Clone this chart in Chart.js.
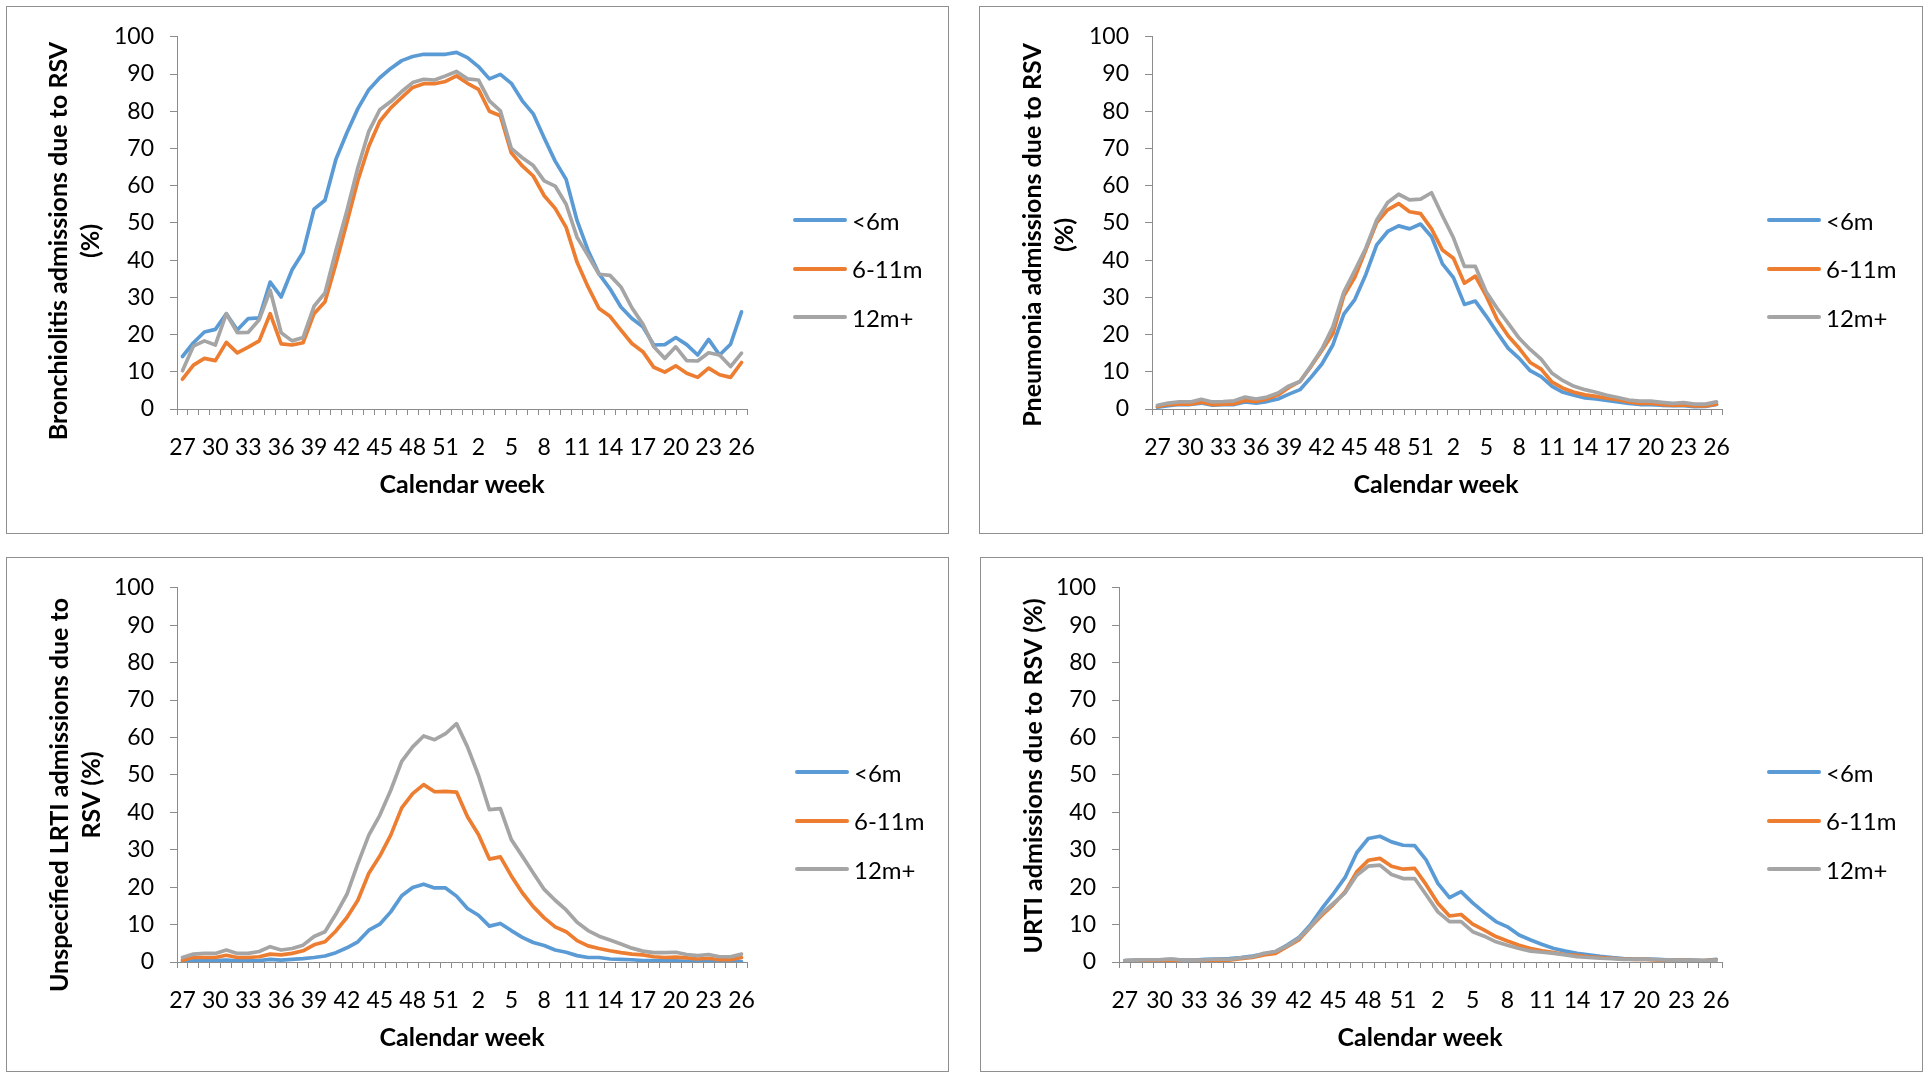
<!DOCTYPE html>
<html>
<head>
<meta charset="utf-8">
<script src="https://cdn.jsdelivr.net/npm/chart.js@4.4.1/dist/chart.umd.min.js"></script>
<style>
  body { margin: 0; background: #fff; width: 1923px; height: 1083px; position: relative; overflow: hidden; font-family: Lato, sans-serif; }
  .panel { position: absolute; box-sizing: border-box; border: 1px solid #8f8f8f; }
  .panel canvas { position: absolute; left: 0; top: 0; }
  .legend-item { position: absolute; display: flex; align-items: center; white-space: nowrap; font-size: 24px; color: #000; }
</style>
</head>
<body>
<div id="p1" class="panel"><canvas></canvas></div>
<div id="p2" class="panel"><canvas></canvas></div>
<div id="p3" class="panel"><canvas></canvas></div>
<div id="p4" class="panel"><canvas></canvas></div>
<script>
const weeks = ['27', '28', '29', '30', '31', '32', '33', '34', '35', '36', '37', '38', '39',
  '40', '41', '42', '43', '44', '45', '46', '47', '48', '49', '50', '51', '52',
  '1', '2', '3', '4', '5', '6', '7', '8', '9', '10', '11', '12', '13',
  '14', '15', '16', '17', '18', '19', '20', '21', '22', '23', '24', '25', '26'];
const yTicks = [0, 10, 20, 30, 40, 50, 60, 70, 80, 90, 100];
const ageGroups = ['<6m', '6-11m', '12m+'];
const COLOURS = ['#5B9BD5', '#ED7D31', '#A5A5A5'];
const AXIS_GREY = '#8c8c8c';

// Bronchiolitis
const bronchUnder6m = [14.1, 17.8, 20.7, 21.4, 25.6, 21.2, 24.3, 24.5, 34.1, 30.1, 37.4, 42.1, 53.7, 56.1, 67.1, 74.2, 80.7, 85.8, 89.0, 91.5, 93.6, 94.7, 95.3, 95.3, 95.3, 95.8, 94.4, 92.0, 88.7, 89.9, 87.5, 82.8, 79.3, 72.8, 66.6, 61.7, 50.6, 42.6, 36.3, 32.3, 27.4, 24.3, 22.1, 17.2, 17.3, 19.2, 17.3, 14.5, 18.7, 14.5, 17.4, 26.1];
const bronch6to11m = [8.0, 11.8, 13.6, 13.0, 17.9, 15.1, 16.6, 18.3, 25.6, 17.5, 17.2, 17.8, 25.6, 28.8, 39.0, 50.1, 61.4, 70.6, 77.3, 80.9, 83.7, 86.4, 87.4, 87.4, 88.0, 89.5, 87.5, 85.9, 80.0, 78.8, 68.8, 65.3, 62.6, 57.3, 53.9, 48.8, 39.4, 32.8, 27.0, 24.9, 21.2, 17.6, 15.4, 11.2, 9.9, 11.6, 9.6, 8.5, 11.0, 9.2, 8.5, 12.5];
const bronch12mPlus = [10.3, 16.9, 18.3, 17.2, 25.6, 20.5, 20.6, 24.0, 31.9, 20.5, 18.3, 19.2, 27.6, 31.2, 42.6, 53.3, 64.8, 74.6, 80.4, 82.6, 85.3, 87.7, 88.6, 88.4, 89.5, 90.7, 88.7, 88.4, 82.8, 80.1, 70.0, 67.5, 65.4, 61.3, 59.9, 55.0, 46.1, 41.2, 36.2, 35.9, 32.8, 27.2, 22.8, 16.7, 13.6, 16.7, 13.0, 12.9, 15.1, 14.5, 11.4, 15.0];

// Pneumonia
const pneumUnder6m = [0.5, 0.9, 1.2, 1.2, 1.6, 1.0, 1.2, 1.2, 1.9, 1.6, 2.0, 2.7, 4.0, 5.2, 8.5, 12.1, 17.2, 25.5, 29.4, 36.1, 44.1, 47.7, 49.2, 48.4, 49.7, 46.3, 39.0, 35.3, 28.1, 29.0, 24.9, 20.5, 16.3, 13.6, 10.3, 8.7, 6.1, 4.5, 3.7, 3.0, 2.7, 2.3, 1.9, 1.5, 1.2, 1.2, 1.0, 0.9, 0.9, 0.6, 0.7, 1.2];
const pneum6to11m = [0.7, 1.2, 1.3, 1.3, 1.8, 1.2, 1.3, 1.4, 2.3, 2.0, 2.7, 3.8, 5.8, 7.4, 11.4, 15.7, 20.3, 30.4, 35.4, 42.7, 50.1, 53.5, 55.2, 53.0, 52.5, 48.4, 42.7, 40.5, 33.8, 35.7, 30.3, 24.0, 19.6, 16.3, 12.5, 10.7, 7.2, 5.6, 4.5, 3.8, 3.4, 2.9, 2.5, 1.9, 1.5, 1.5, 1.2, 1.0, 1.1, 0.8, 0.8, 1.3];
const pneum12mPlus = [1.0, 1.6, 1.9, 1.9, 2.6, 1.9, 2.0, 2.2, 3.2, 2.7, 3.2, 4.3, 6.2, 7.4, 11.6, 16.1, 22.1, 31.4, 37.2, 43.2, 50.8, 55.5, 57.7, 56.2, 56.4, 58.1, 51.9, 46.0, 38.3, 38.3, 31.4, 27.0, 23.0, 19.0, 16.0, 13.4, 9.6, 7.6, 6.1, 5.2, 4.5, 3.7, 3.1, 2.4, 2.1, 2.1, 1.8, 1.5, 1.7, 1.3, 1.3, 1.9];

// Unspecified LRTI
const lrtiUnder6m = [0.1, 0.3, 0.4, 0.4, 0.5, 0.3, 0.3, 0.4, 0.7, 0.5, 0.7, 0.9, 1.2, 1.6, 2.5, 3.8, 5.4, 8.5, 10.1, 13.4, 17.7, 19.9, 20.8, 19.8, 19.8, 17.6, 14.3, 12.5, 9.6, 10.3, 8.4, 6.6, 5.2, 4.4, 3.2, 2.6, 1.7, 1.2, 1.2, 0.8, 0.7, 0.6, 0.4, 0.4, 0.3, 0.3, 0.2, 0.1, 0.2, 0.1, 0.1, 0.1];
const lrti6to11m = [0.5, 1.2, 1.2, 1.2, 1.8, 1.2, 1.2, 1.4, 2.1, 1.9, 2.3, 3.0, 4.6, 5.4, 8.3, 11.9, 16.5, 23.7, 28.3, 33.9, 41.2, 45.0, 47.4, 45.5, 45.6, 45.4, 38.8, 34.1, 27.5, 28.1, 23.0, 18.5, 14.8, 11.8, 9.4, 8.1, 5.7, 4.3, 3.6, 3.0, 2.5, 2.1, 1.9, 1.4, 1.2, 1.3, 1.1, 0.8, 1.0, 0.6, 0.6, 1.2];
const lrti12mPlus = [1.2, 2.1, 2.3, 2.3, 3.2, 2.3, 2.3, 2.8, 4.1, 3.2, 3.6, 4.5, 6.8, 8.1, 12.8, 18.1, 26.3, 33.9, 39.2, 45.9, 53.6, 57.5, 60.4, 59.4, 61.0, 63.7, 57.5, 49.9, 40.7, 41.0, 32.7, 28.3, 23.8, 19.4, 16.5, 13.9, 10.6, 8.4, 6.9, 5.9, 4.8, 3.7, 2.9, 2.5, 2.5, 2.6, 2.0, 1.7, 2.0, 1.4, 1.4, 2.1];

// URTI
const urtiUnder6m = [0.4, 0.5, 0.6, 0.6, 0.7, 0.5, 0.5, 0.7, 0.8, 0.9, 1.2, 1.6, 2.1, 2.8, 4.5, 6.5, 9.9, 14.3, 18.3, 22.6, 29.2, 33.0, 33.6, 32.1, 31.2, 31.1, 27.2, 21.0, 17.2, 18.8, 15.8, 13.2, 10.8, 9.4, 7.2, 5.9, 4.7, 3.6, 2.9, 2.3, 1.9, 1.5, 1.2, 0.9, 0.8, 0.8, 0.7, 0.5, 0.6, 0.5, 0.4, 0.7];
const urti6to11m = [0.3, 0.4, 0.4, 0.4, 0.5, 0.4, 0.4, 0.4, 0.5, 0.5, 0.9, 1.2, 1.9, 2.3, 4.1, 5.9, 9.3, 12.5, 15.4, 18.8, 24.1, 27.2, 27.7, 25.6, 24.8, 25.0, 20.6, 15.7, 12.3, 12.7, 10.1, 8.5, 6.8, 5.6, 4.5, 3.6, 3.0, 2.5, 2.0, 1.8, 1.4, 1.2, 1.0, 0.8, 0.7, 0.7, 0.5, 0.4, 0.5, 0.4, 0.4, 0.5];
const urti12mPlus = [0.4, 0.5, 0.6, 0.6, 0.8, 0.5, 0.5, 0.6, 0.8, 0.7, 1.1, 1.4, 2.3, 2.8, 4.3, 6.3, 9.4, 13.0, 15.7, 18.5, 23.2, 25.6, 25.9, 23.4, 22.3, 22.3, 17.9, 13.4, 10.8, 10.8, 8.1, 6.9, 5.4, 4.5, 3.6, 2.9, 2.6, 2.3, 1.9, 1.4, 1.2, 1.0, 0.9, 0.7, 0.7, 0.7, 0.6, 0.5, 0.5, 0.4, 0.4, 0.5];

// panel boxes are page coords; chart area / titles are canvas coords
const PANELS = [
  {
    id: 'p1', box: [6, 6, 943, 528], area: [170, 28, 740, 402],
    series: [bronchUnder6m, bronch6to11m, bronch12mPlus],
    yTitle: ['Bronchiolitis admissions due to RSV', '(%)'], yTitlePos: [60, 234],
    xTitlePos: [455, 486], legend: [793, 220],
  },
  {
    id: 'p2', box: [979, 6, 944, 528], area: [172, 28, 742, 402],
    series: [pneumUnder6m, pneum6to11m, pneum12mPlus],
    yTitle: ['Pneumonia admissions due to RSV', '(%)'], yTitlePos: [61, 228],
    xTitlePos: [456, 486], legend: [1767, 220],
  },
  {
    id: 'p3', box: [6, 557, 943, 515], area: [170, 29, 740, 404],
    series: [lrtiUnder6m, lrti6to11m, lrti12mPlus],
    yTitle: ['Unspecified LRTI admissions due to', 'RSV (%)'], yTitlePos: [61, 237],
    xTitlePos: [455, 488], legend: [795, 772],
  },
  {
    id: 'p4', box: [980, 557, 943, 515], area: [138, 29, 741, 404],
    series: [urtiUnder6m, urti6to11m, urti12mPlus],
    yTitle: ['URTI admissions due to RSV (%)'], yTitlePos: [61, 218],
    xTitlePos: [439, 488], legend: [1767, 772],
  },
];

Chart.defaults.font.family = 'Lato';
Chart.defaults.color = '#000';

const axisTitles = {
  id: 'axisTitles',
  afterDraw(chart, args, opts) {
    const ctx = chart.ctx;
    ctx.save();
    ctx.fillStyle = '#000';
    ctx.font = 'bold 25px Lato';
    ctx.textAlign = 'center';
    ctx.textBaseline = 'alphabetic';
    ctx.fillText('Calendar week', opts.xPos[0], opts.xPos[1]);
    opts.yLines.forEach((line, i) => {
      ctx.save();
      ctx.translate(opts.yPos[0] + i * 32, opts.yPos[1]);
      ctx.rotate(-Math.PI / 2);
      ctx.fillText(line, 0, 0);
      ctx.restore();
    });
    ctx.restore();
  }
};

function makeLegend(pos) {
  ageGroups.forEach((label, i) => {
    const item = document.createElement('div');
    item.className = 'legend-item';
    item.style.left = pos[0] + 'px';
    item.style.top = (pos[1] + i * 48.5 - 15) + 'px';
    item.style.height = '30px';

    const line = document.createElement('span');
    line.style.display = 'inline-block';
    line.style.width = '54px';
    line.style.height = '4px';
    line.style.borderRadius = '2px';
    line.style.background = COLOURS[i];
    line.style.marginRight = '5px';

    item.appendChild(line);
    item.appendChild(document.createTextNode(label));
    document.body.appendChild(item);
  });
}

PANELS.forEach(panel => {
  const div = document.getElementById(panel.id);
  const [left, top, width, height] = panel.box;
  div.style.left = left + 'px';
  div.style.top = top + 'px';
  div.style.width = width + 'px';
  div.style.height = height + 'px';

  const W = width - 2;
  const H = height - 2;
  const canvas = div.querySelector('canvas');
  canvas.width = W;
  canvas.height = H;
  const [caLeft, caTop, caRight, caBottom] = panel.area;

  new Chart(canvas, {
    type: 'line',
    data: {
      labels: weeks,
      datasets: panel.series.map((values, i) => ({
        label: ageGroups[i],
        data: values,
        borderColor: COLOURS[i],
        backgroundColor: COLOURS[i],
        borderWidth: 3.7,
        pointRadius: 0,
        tension: 0,
        borderJoinStyle: 'round',
        borderCapStyle: 'round',
        order: 3 - i,
      })),
    },
    options: {
      responsive: false,
      animation: false,
      devicePixelRatio: 1,
      layout: { padding: { left: 0, top: caTop, right: W - caRight, bottom: 0 } },
      plugins: {
        legend: { display: false },
        tooltip: { enabled: false },
        axisTitles: { xPos: panel.xTitlePos, yPos: panel.yTitlePos, yLines: panel.yTitle },
      },
      scales: {
        x: {
          offset: true,
          grid: { offset: true, drawOnChartArea: false, drawTicks: true, tickLength: 6, color: AXIS_GREY },
          border: { color: AXIS_GREY, width: 1 },
          ticks: {
            autoSkip: false, maxRotation: 0, minRotation: 0, padding: 19,
            font: { size: 23 }, color: '#000',
            callback: (value, index) => (index % 3 === 0 ? weeks[index] : ''),
          },
          afterFit: scale => { scale.height = H - caBottom; },
        },
        y: {
          min: yTicks[0],
          max: yTicks[yTicks.length - 1],
          afterBuildTicks: scale => { scale.ticks = yTicks.map(v => ({ value: v })); },
          grid: { drawOnChartArea: false, drawTicks: true, tickLength: 7, color: AXIS_GREY },
          border: { color: AXIS_GREY, width: 1 },
          ticks: { padding: 16, font: { size: 23 }, color: '#000' },
          afterFit: scale => { scale.width = caLeft; },
        },
      },
    },
    plugins: [axisTitles],
  });

  makeLegend(panel.legend);
});
</script>
</body>
</html>
